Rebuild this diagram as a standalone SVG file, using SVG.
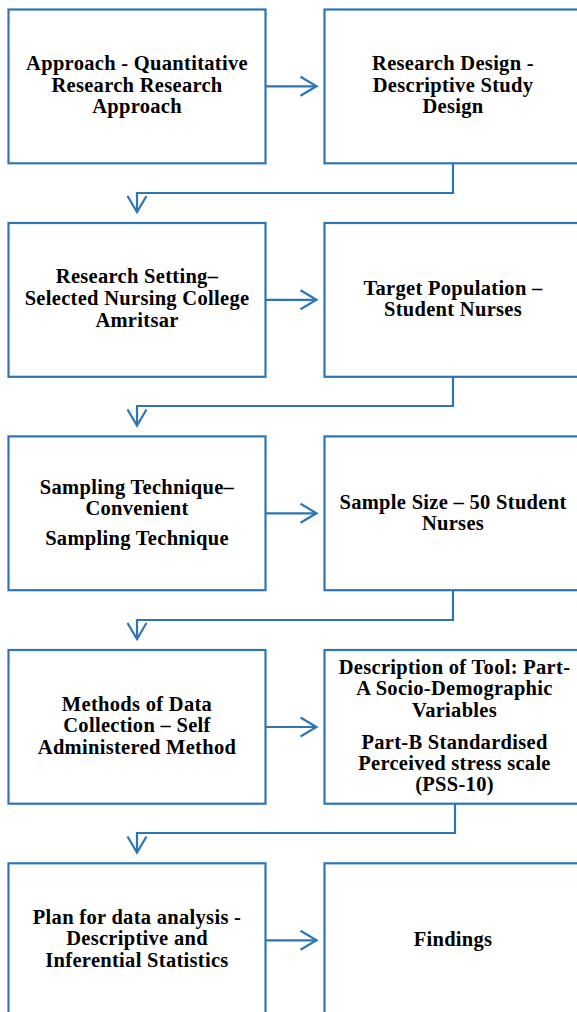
<svg xmlns="http://www.w3.org/2000/svg" width="577" height="1012" viewBox="0 0 577 1012">
  <defs>
    <style>
      .box { fill: #ffffff; stroke: #2E75B6; stroke-width: 2.2; }
      .lbl { font-family: "Liberation Serif", "Times New Roman", serif; font-weight: bold; font-size: 20.5px; letter-spacing: 0.3px; fill: #000000; text-anchor: middle; }
      .link { fill: none; stroke: #2E75B6; stroke-width: 2.2; }
    </style>
    <marker id="arrow" markerUnits="userSpaceOnUse" markerWidth="30" markerHeight="30" viewBox="-20 -15 30 30" refX="0" refY="0" orient="auto" overflow="visible">
      <path d="M-16,-9.5 L0,0 L-16,9.5" fill="none" stroke="#2E75B6" stroke-width="2.2"/>
    </marker>
  </defs>
  <rect width="577" height="1012" fill="#ffffff"/>

  <!-- connectors -->
  <g id="connectors">
    <path class="link" d="M265.5,86.3 H316.5" marker-end="url(#arrow)"/>
    <path class="link" d="M265.5,299.8 H316.5" marker-end="url(#arrow)"/>
    <path class="link" d="M265.5,513.3 H316.5" marker-end="url(#arrow)"/>
    <path class="link" d="M265.5,727 H316.5" marker-end="url(#arrow)"/>
    <path class="link" d="M265.5,940.3 H316.5" marker-end="url(#arrow)"/>
    <path class="link" d="M453,163.3 V193 H137 V212" marker-end="url(#arrow)"/>
    <path class="link" d="M453,376.8 V406 H137 V425.5" marker-end="url(#arrow)"/>
    <path class="link" d="M453,590.2 V620 H137 V639" marker-end="url(#arrow)"/>
    <path class="link" d="M455,803.7 V833 H137 V852.5" marker-end="url(#arrow)"/>
  </g>

  <!-- row 1 -->
  <g id="approach">
    <rect class="box" x="8.5" y="9.5" width="257" height="153.8"/>
    <text class="lbl" x="137" y="70">Approach - Quantitative</text>
    <text class="lbl" x="137" y="91.5">Research Research</text>
    <text class="lbl" x="137" y="113">Approach</text>
  </g>
  <g id="research-design">
    <rect class="box" x="324.5" y="9.5" width="257" height="153.8"/>
    <text class="lbl" x="453" y="70">Research Design -</text>
    <text class="lbl" x="453" y="91.5">Descriptive Study</text>
    <text class="lbl" x="453" y="113">Design</text>
  </g>

  <!-- row 2 -->
  <g id="research-setting">
    <rect class="box" x="8.5" y="223" width="257" height="153.8"/>
    <text class="lbl" x="137" y="283">Research Setting–</text>
    <text class="lbl" x="137" y="305">Selected Nursing College</text>
    <text class="lbl" x="137" y="326.5">Amritsar</text>
  </g>
  <g id="target-population">
    <rect class="box" x="324.5" y="223" width="257" height="153.8"/>
    <text class="lbl" x="453" y="295">Target Population –</text>
    <text class="lbl" x="453" y="316">Student Nurses</text>
  </g>

  <!-- row 3 -->
  <g id="sampling-technique">
    <rect class="box" x="8.5" y="436.4" width="257" height="153.8"/>
    <text class="lbl" x="137" y="493.5">Sampling Technique–</text>
    <text class="lbl" x="137" y="514.5">Convenient</text>
    <text class="lbl" x="137" y="545">Sampling Technique</text>
  </g>
  <g id="sample-size">
    <rect class="box" x="324.5" y="436.4" width="257" height="153.8"/>
    <text class="lbl" x="453" y="508.5">Sample Size – 50 Student</text>
    <text class="lbl" x="453" y="529.5">Nurses</text>
  </g>

  <!-- row 4 -->
  <g id="data-collection">
    <rect class="box" x="8.5" y="650" width="257" height="153.7"/>
    <text class="lbl" x="137" y="710.5">Methods of Data</text>
    <text class="lbl" x="137" y="732.3">Collection – Self</text>
    <text class="lbl" x="137" y="754.2">Administered Method</text>
  </g>
  <g id="tool-description">
    <rect class="box" x="324.5" y="650" width="257" height="153.7"/>
    <text class="lbl" x="454.5" y="673.5">Description of Tool: Part-</text>
    <text class="lbl" x="454.5" y="695">A Socio-Demographic</text>
    <text class="lbl" x="454.5" y="716.5">Variables</text>
    <text class="lbl" x="454.5" y="748.5">Part-B Standardised</text>
    <text class="lbl" x="454.5" y="769.5">Perceived stress scale</text>
    <text class="lbl" x="454.5" y="791">(PSS-10)</text>
  </g>

  <!-- row 5 -->
  <g id="data-analysis">
    <rect class="box" x="8.5" y="863.3" width="257" height="153.8"/>
    <text class="lbl" x="137" y="923.5">Plan for data analysis -</text>
    <text class="lbl" x="137" y="945">Descriptive and</text>
    <text class="lbl" x="137" y="967">Inferential Statistics</text>
  </g>
  <g id="findings">
    <rect class="box" x="324.5" y="863.3" width="257" height="153.8"/>
    <text class="lbl" x="453" y="946">Findings</text>
  </g>
</svg>
